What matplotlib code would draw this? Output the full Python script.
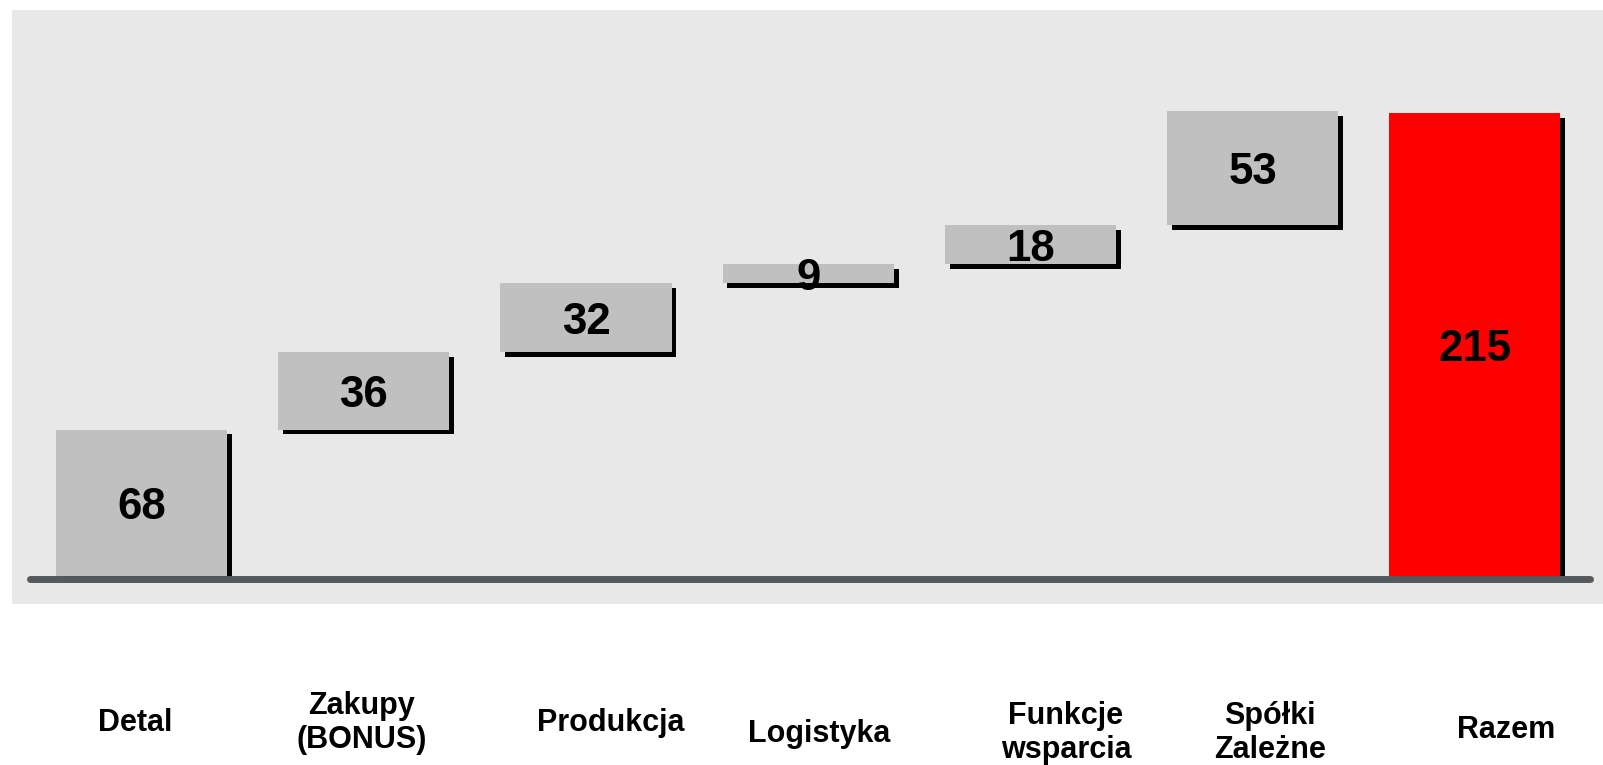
import matplotlib
matplotlib.use("Agg")
import matplotlib.pyplot as plt
import matplotlib.patheffects as pe

# data
categories = ["Detal", "Zakupy\n(BONUS)", "Produkcja", "Logistyka",
              "Funkcje\nwsparcia", "Spółki\nZależne", "Razem"]
steps = [68, 36, 32, 9, 18, 53]
total = 215

plt.rcParams['font.family'] = ['Liberation Sans', 'DejaVu Sans']

W, H = 1603, 765
fig = plt.figure(figsize=(W / 100, H / 100), dpi=100)
fig.patch.set_facecolor('white')

# grey panel = axes area
px_l, px_r, px_t, px_b = 12, 1603, 10, 604
ax = fig.add_axes([px_l / W, (H - px_b) / H, (px_r - px_l) / W, (px_b - px_t) / H])
ax.set_facecolor('#e8e8e8')
for s in ax.spines.values():
    s.set_visible(False)
ax.set_xticks([])
ax.set_yticks([])
ax.set_xlim(-0.583, 6.577)
ax.set_ylim(-13.0, 262.9)

shadow = [pe.SimplePatchShadow(offset=(3.5, -3.5), shadow_rgbFace='black', alpha=1.0), pe.Normal()]

bottoms = []
run = 0
for v in steps:
    bottoms.append(run)
    run += v

xs = list(range(len(categories)))
bars = ax.bar(xs[:-1], steps, bottom=bottoms, width=0.77, color='#c0c0c0', zorder=2)
for b in bars:
    b.set_path_effects(shadow)
tb = ax.bar(xs[-1], total, width=0.77, color='#ff0000', zorder=2)
tb[0].set_path_effects(shadow)

vals = steps + [total]
bots = bottoms + [0]
for x, v, b in zip(xs, vals, bots):
    ax.text(x, b + v / 2 - 2.2, str(v), ha='center', va='center', fontsize=31.5,
            fontweight='bold', color='black', zorder=4)

# base line
ax.plot([-0.50, 6.52], [-1.6, -1.6], color='#55595c', lw=5,
        solid_capstyle='round', zorder=3, clip_on=False)

# category labels under the panel
label_dx = [-0.03, -0.01, 0.11, 0.05, 0.16, 0.08, 0.14]
label_py = [723, 723, 723, 734, 733, 733, 730]
for x, lab, dx, py in zip(xs, categories, label_dx, label_py):
    ax.text(x + dx, (576 - py) / 2.153, lab, ha='center', va='center',
            fontsize=22, fontweight='bold', color='black',
            linespacing=1.15, clip_on=False)

fig.savefig("out.png", dpi=100)
